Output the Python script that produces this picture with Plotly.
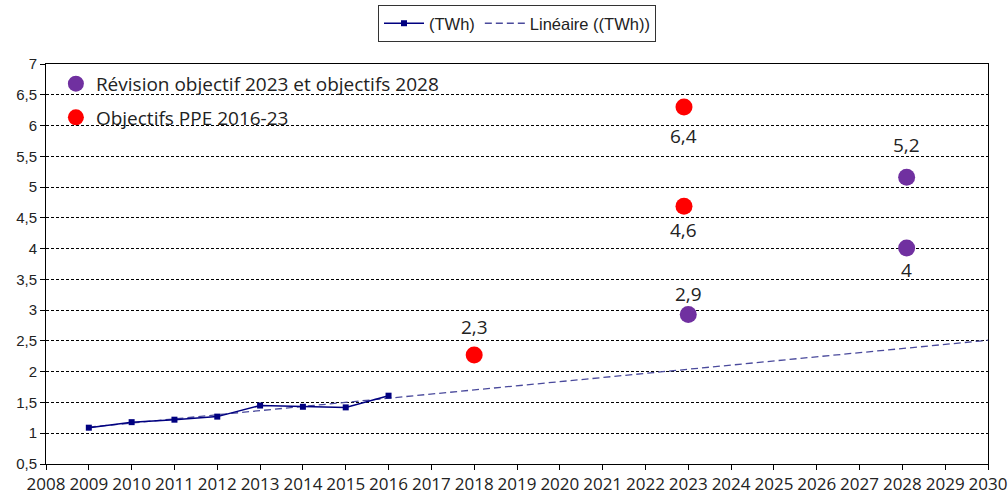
import numpy as np
import plotly.graph_objects as go

# ---- data ----
years = [2009, 2010, 2011, 2012, 2013, 2014, 2015, 2016]
twh = [1.09, 1.18, 1.22, 1.27, 1.45, 1.43, 1.42, 1.61]

trend_years = [2009, 2030]

ppe_x = [2018, 2022.9, 2022.9]
ppe_y = [2.27, 6.30, 4.69]
ppe_labels = ["2,3", "6,4", "4,6"]
ppe_label_shift = [28, -29, -24]

rev_x = [2023, 2028.1, 2028.1]
rev_y = [2.93, 5.16, 4.01]
rev_labels = ["2,9", "5,2", "4"]
rev_label_shift = [20, 32, -22]

x_ticks = list(range(2008, 2031))
y_ticks = [0.5, 1, 1.5, 2, 2.5, 3, 3.5, 4, 4.5, 5, 5.5, 6, 6.5, 7]
y_tick_text = ["0,5", "1", "1,5", "2", "2,5", "3", "3,5", "4", "4,5", "5", "5,5", "6", "6,5", "7"]

# linear trendline (least squares fit of the measured series)
slope, intercept = np.polyfit(years, twh, 1)
trend_y = [slope * x + intercept for x in trend_years]

fig = go.Figure()

fig.add_trace(go.Scatter(
    x=trend_years, y=trend_y, mode="lines", name="Linéaire ((TWh))",
    line=dict(color="#4a4a9c", width=1.3, dash="7px,4px"),
    legend="legend", legendrank=2,
))
fig.add_trace(go.Scatter(
    x=years, y=twh, mode="lines+markers", name="(TWh)",
    line=dict(color="#000080", width=1.5),
    marker=dict(symbol="square", size=6, color="#000080"),
    legend="legend", legendrank=1,
))
fig.add_trace(go.Scatter(
    x=rev_x, y=rev_y, mode="markers", name="Révision objectif 2023 et objectifs 2028",
    marker=dict(size=17, color="#7030A0"),
    legend="legend2", legendgroup="rev", legendrank=1,
))
fig.add_trace(go.Scatter(
    x=ppe_x, y=ppe_y, mode="markers", name="Objectifs PPE 2016-23",
    marker=dict(size=17, color="#FF0000"),
    legend="legend2", legendgroup="ppe", legendrank=2,
))

annots = []
for xs, ys, labs, shifts in [(ppe_x, ppe_y, ppe_labels, ppe_label_shift),
                             (rev_x, rev_y, rev_labels, rev_label_shift)]:
    for x, y, t, s in zip(xs, ys, labs, shifts):
        annots.append(dict(x=x, y=y, xref="x", yref="y", text=t, showarrow=False,
                           yshift=s,
                           font=dict(family="Open Sans", size=19, color="#222222")))

fig.update_layout(
    width=1008, height=495,
    margin=dict(l=46, r=20, t=64, b=31, autoexpand=False),
    paper_bgcolor="white", plot_bgcolor="white",
    annotations=annots,
    showlegend=True,
    legend=dict(
        orientation="h", x=0.5, xanchor="center", y=1.1475, yanchor="top",
        bordercolor="#333333", borderwidth=1,
        font=dict(family="Liberation Sans", size=16.5, color="#222222"),
        bgcolor="white", itemwidth=40,
    ),
    legend2=dict(
        x=0.0105, xanchor="left", y=0.998, yanchor="top",
        font=dict(family="Open Sans", size=19, color="#222222"),
        bgcolor="rgba(0,0,0,0)", tracegroupgap=6,
    ),
    xaxis=dict(
        range=[2008, 2030], tickvals=x_ticks, ticktext=[str(v) for v in x_ticks],
        showgrid=False, zeroline=False, automargin=False,
        showline=True, linecolor="black", linewidth=1, mirror=True,
        ticks="outside", ticklen=5, tickcolor="black",
        tickfont=dict(family="Open Sans", size=17, color="#222222"),
    ),
    yaxis=dict(
        range=[0.5, 7], tickvals=y_ticks, ticktext=y_tick_text,
        showgrid=True, gridcolor="black", gridwidth=1, griddash="3px,2px",
        zeroline=False, automargin=False,
        showline=True, linecolor="black", linewidth=1, mirror=True,
        ticks="outside", ticklen=5, tickcolor="black",
        tickfont=dict(family="Liberation Sans", size=15, color="#222222"),
    ),
)

fig.write_html("out.html", config={"displayModeBar": False},
               post_script="document.body.style.margin='0px';")
